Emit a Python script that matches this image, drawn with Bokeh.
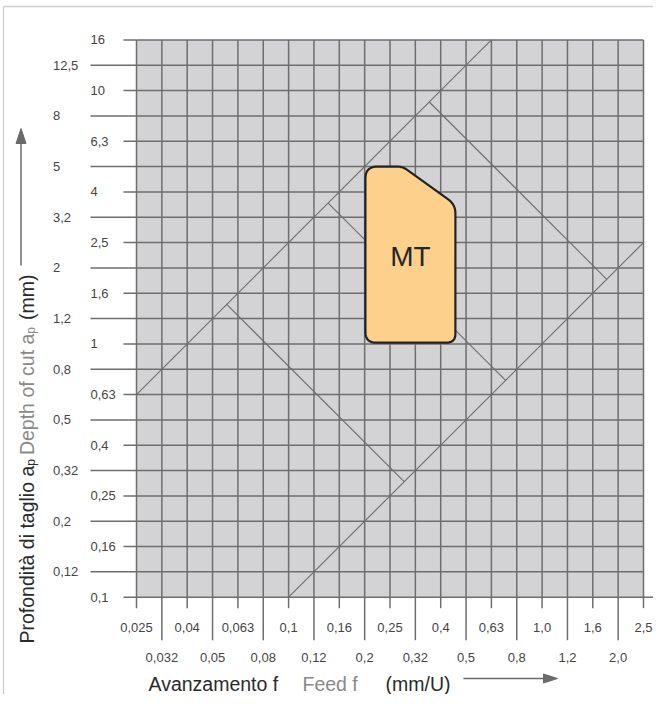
import numpy as np
from bokeh.plotting import figure
from bokeh.models import Range1d
from bokeh.core.properties import value
from bokeh.embed import file_html
from bokeh.resources import INLINE

# ---------------- data ----------------
feed_labels = ["0,025", "0,032", "0,04", "0,05", "0,063", "0,08", "0,1", "0,12",
               "0,16", "0,2", "0,25", "0,32", "0,4", "0,5", "0,63", "0,8",
               "1,0", "1,2", "1,6", "2,0", "2,5"]
depth_labels = ["0,1", "0,12", "0,16", "0,2", "0,25", "0,32", "0,4", "0,5",
                "0,63", "0,8", "1", "1,2", "1,6", "2", "2,5", "3,2", "4", "5",
                "6,3", "8", "10", "12,5", "16"]

# limit lines (in grid steps: feed index, depth index)
limit_f_start = [0, 6]
limit_d_start = [8, 0]
limit_f_end = [14, 20]
limit_d_end = [22, 14]

# perpendicular lines between the two limits
cross_f_start = [3.56, 7.56, 11.55]
cross_d_start = [11.56, 15.56, 19.55]
cross_f_end = [10.56, 14.56, 18.55]
cross_d_end = [4.56, 8.56, 12.55]

# MT application area (feed index, depth index)
mt_feed = [9.03, 9.03, 10.5, 12.58, 12.58]
mt_depth = [10.05, 17.0, 17.0, 15.5, 10.05]
mt_label = "MT"
mt_label_depth = 13.47

# ---------------- layout ----------------
FONT = "Liberation Sans"
W, H = 653, 694
GX0, GY0 = 136.0, 596.7   # picture px of grid origin
SX, SY = 25.35, 25.33     # px per grid step


def dx(px):
    return (px - GX0) / SX


def dy(py):
    return (GY0 - py) / SY


p = figure(width=W, height=H, output_backend="svg", toolbar_location=None,
           x_range=Range1d(dx(0), dx(W)),
           y_range=Range1d(dy(H), dy(0)),
           x_axis_type=None, y_axis_type=None, min_border=0,
           outline_line_color=None, title=None,
           background_fill_color="white", border_fill_color="white")

nx = len(feed_labels)
ny = len(depth_labels)
xi = np.arange(nx)
yi = np.arange(ny)

# outer thin frame (left and top)
p.segment(x0=[dx(3), dx(3)], y0=[dy(6), dy(6)], x1=[dx(3), dx(W)],
          y1=[dy(H), dy(6)], line_color="#cdcdcd", line_width=1.3)

# grid background
p.quad(left=0, right=nx - 1, bottom=0, top=ny - 1, fill_color="#d3d3d5",
       line_color=None)

GRID_COL = "#6e6e6e"
# vertical grid lines
p.segment(x0=xi, y0=np.zeros(nx), x1=xi, y1=np.full(nx, ny - 1),
          line_color=GRID_COL, line_width=1.5)
# horizontal grid lines
p.segment(x0=np.zeros(ny), y0=yi, x1=np.full(ny, nx - 1), y1=yi,
          line_color=GRID_COL, line_width=1.5)
# baseline extension to the right
p.segment(x0=[nx - 1], y0=[0], x1=[dx(W)], y1=[0],
          line_color=GRID_COL, line_width=1.5)

# y ticks (alternating short / long)
y_short, y_long = 13 / SX, 46 / SX
p.segment(x0=np.where(yi % 2 == 0, -y_short, -y_long), y0=yi,
          x1=np.zeros(ny), y1=yi, line_color=GRID_COL, line_width=1.5)
# x ticks
x_short, x_long = 11 / SY, 43 / SY
p.segment(x0=xi, y0=np.where(xi % 2 == 0, -x_short, -x_long),
          x1=xi, y1=np.zeros(nx), line_color=GRID_COL, line_width=1.5)

TICK_COL = "#454545"
# y tick labels (left aligned in two columns)
p.text(x=np.where(yi % 2 == 0, dx(90), dx(52.5)), y=yi, text=depth_labels,
       text_align="left", text_baseline="middle",
       text_font=value(FONT), text_font_size="13px", text_color=TICK_COL)
# x tick labels (two rows)
p.text(x=xi, y=np.where(xi % 2 == 0, dy(627), dy(657)), text=feed_labels,
       text_align="center", text_baseline="middle",
       text_font=value(FONT), text_font_size="13px", text_color=TICK_COL)

# limit lines and cross lines
LINE_COL = "#6c6c6c"
p.segment(x0=limit_f_start, y0=limit_d_start, x1=limit_f_end, y1=limit_d_end,
          line_color=LINE_COL, line_width=1.1)
p.segment(x0=cross_f_start, y0=cross_d_start, x1=cross_f_end, y1=cross_d_end,
          line_color=LINE_COL, line_width=1.1)


# MT area with rounded corners
def rounded(xs, ys, cuts, n=14):
    ox, oy = [], []
    N = len(xs)
    t = np.linspace(0, 1, n)
    for k in range(N):
        vx, vy = xs[k], ys[k]
        ax, ay = xs[k - 1], ys[k - 1]
        bx, by = xs[(k + 1) % N], ys[(k + 1) % N]
        d = cuts[k]
        la = np.hypot(ax - vx, ay - vy)
        lb = np.hypot(bx - vx, by - vy)
        p0x, p0y = vx + (ax - vx) / la * d, vy + (ay - vy) / la * d
        p2x, p2y = vx + (bx - vx) / lb * d, vy + (by - vy) / lb * d
        ox.extend((1 - t) ** 2 * p0x + 2 * (1 - t) * t * vx + t ** 2 * p2x)
        oy.extend((1 - t) ** 2 * p0y + 2 * (1 - t) * t * vy + t ** 2 * p2y)
    return ox, oy


mx, my = rounded(mt_feed, mt_depth, [0.42, 0.47, 0.22, 0.35, 0.35])
p.patch(x=mx, y=my, fill_color="#fdd08c", line_color="#222222",
        line_width=2.2, line_join="round")
p.text(x=[(min(mt_feed) + max(mt_feed)) / 2], y=[mt_label_depth], text=[mt_label],
       text_align="center", text_baseline="middle", text_font=value(FONT),
       text_font_size="28px", text_color="#262626")

# ---------------- axis titles ----------------
CW = {' ': 278, '(': 333, ')': 333, '/': 278, 'A': 667, 'D': 722, 'F': 611,
      'P': 667, 'U': 722, 'a': 556, 'c': 500, 'd': 556, 'e': 556, 'f': 278,
      'g': 556, 'h': 556, 'i': 222, 'l': 222, 'm': 833, 'n': 556, 'o': 556,
      'p': 556, 'r': 333, 't': 278, 'u': 556, 'v': 500, 'z': 500, 'à': 556}


def tw(s, size):
    return sum(CW.get(c, 556) for c in s) / 1000 * size


DARK, GREY = "#2a2a2a", "#8a8a8a"
TS, SUB = 19.5, 12

# y title (rotated, reads bottom to top): text, colour, size, sub shift, gap before
y_parts = [("Profondità di taglio a", DARK, TS, 0, 0),
           ("p", DARK, SUB, 4, 0),
           ("Depth of cut a", GREY, TS, 0, 4),
           ("p", GREY, SUB, 4, 0),
           ("(mm)", DARK, TS, 0, 7)]
base_x, pos = 26.5, 643.0
for s, col, size, shift, gap in y_parts:
    pos -= gap
    p.text(x=[dx(base_x + shift)], y=[dy(pos)], text=[s], angle=np.pi / 2,
           text_align="left", text_baseline="alphabetic", text_font=value(FONT),
           text_font_size=f"{size}px", text_color=col)
    pos -= tw(s, size)
ARROW_COL = "#6a6a6a"
y_line_top, y_tip = 142, 128
p.segment(x0=[dx(20.5)], y0=[dy(pos - 9)], x1=[dx(20.5)], y1=[dy(y_line_top)],
          line_color=ARROW_COL, line_width=1.5)
p.patch(x=[dx(15.5), dx(20.5), dx(25.5)], y=[dy(y_line_top + 1), dy(y_tip), dy(y_line_top + 1)],
        fill_color=ARROW_COL, line_color=ARROW_COL)

# x title
x_base = 683
x_parts = [("Avanzamento f", DARK, 148), ("Feed f", GREY, 302), ("(mm/U)", DARK, 385)]
for s, col, start in x_parts:
    p.text(x=[dx(start)], y=[dy(x_base)], text=[s], text_align="left",
           text_baseline="alphabetic", text_font=value(FONT),
           text_font_size=f"{TS}px", text_color=col)
ax_y = x_base - 5
p.segment(x0=[dx(463)], y0=[dy(ax_y)], x1=[dx(544)], y1=[dy(ax_y)],
          line_color=ARROW_COL, line_width=1.5)
p.patch(x=[dx(543), dx(557), dx(543)], y=[dy(ax_y - 4.5), dy(ax_y), dy(ax_y + 4.5)],
        fill_color=ARROW_COL, line_color=ARROW_COL)

open("out.html", "w").write(file_html(p, INLINE))
